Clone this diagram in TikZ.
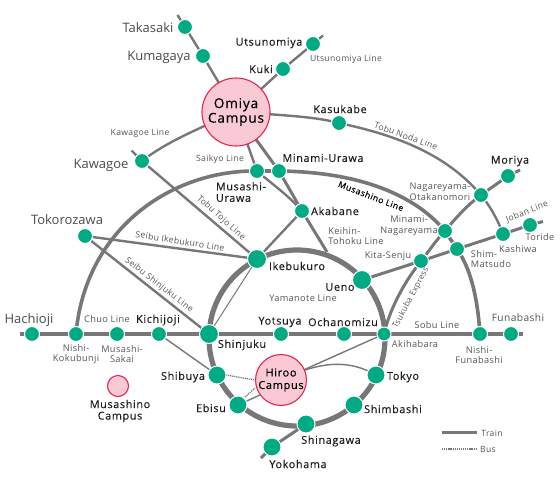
\documentclass[tikz,border=0pt]{standalone}
\usepackage{fontspec}
\setmainfont{Open Sans}
\newfontfamily\semi[FakeBold=0.3,LetterSpace=6]{Open Sans}
\newfontfamily\spaced[LetterSpace=4]{Open Sans}
\usetikzlibrary{backgrounds}
\definecolor{stn}{HTML}{00AA82}
\definecolor{rail}{HTML}{777777}
\definecolor{pinkc}{HTML}{F9C9D6}
\definecolor{redc}{HTML}{E6264A}
\definecolor{linetxt}{HTML}{555555}
\definecolor{nametxt}{HTML}{1E1E1E}
\tikzset{
  st/.style={circle,fill=stn,draw=white,line width=1pt,minimum size=15pt,inner sep=0pt,outer sep=0pt},
  big/.style={st,minimum size=19pt},
  small/.style={st,minimum size=14pt},
  campus/.style={circle,fill=pinkc,draw=redc,line width=1.1pt,inner sep=0pt,align=center,text=black,font=\fontsize{11}{12.5}\semi},
  thick1/.style={draw=rail,line width=3pt},
  mid/.style={draw=rail,line width=2.4pt},
  thin1/.style={draw=rail,line width=1.4pt},
  dots/.style={draw=rail,line width=1.3pt,dash pattern=on 1.2pt off 0.9pt},
  lname/.style={text=linetxt,font=\fontsize{8.6}{10}\spaced,inner sep=0pt,align=center},
  sname/.style={text=nametxt,font=\fontsize{10.8}{11.5}\semi,inner sep=0pt,align=center},
  gname/.style={text=linetxt,font=\fontsize{9.2}{10.6}\spaced,inner sep=0pt,align=center},
  bigname/.style={text=nametxt!80!white,font=\fontsize{13}{14}\selectfont,inner sep=0pt},
}
\begin{document}
\begin{tikzpicture}[x=1pt,y=-1pt]
\useasboundingbox (0,0) rectangle (560,480);
% campuses
\node[campus,minimum size=68pt,font=\fontsize{13.6}{14.6}\semi] (omiya) at (236,112) {Omiya\\Campus};
\node[campus,minimum size=50pt] (hiroo) at (281,380) {Hiroo\\Campus};
\node[campus,minimum size=21pt] (musashino) at (118,386) {};
% stations
\node[st] (takasaki) at (185,27) {};
\node[st] (kumagaya) at (203,56) {};
\node[st] (utsunomiya) at (313,44) {};
\node[st] (kuki) at (283,69) {};
\node[st] (kasukabe) at (339,123) {};
\node[st] (kawagoe) at (142,161) {};
\node[st] (musashiurawa) at (257,171) {};
\node[st] (minamiurawa) at (279,171) {};
\node[st] (akabane) at (302,211) {};
\node[st] (moriya) at (508,176) {};
\node[st] (otaka) at (481,195) {};
\node[st] (minaminag) at (445,231) {};
\node[st] (shimmatsudo) at (457,249) {};
\node[st] (kashiwa) at (503,234) {};
\node[st] (toride) at (530,225) {};
\node[st] (kitasenju) at (421,261) {};
\node[big] (ueno) at (362,280) {};
\node[small] (akihabara) at (384,334) {};
\node[st] (nishifuna) at (480,334) {};
\node[st] (funabashi) at (511,334) {};
\node[st] (hachioji) at (32,334) {};
\node[st] (nishikoku) at (76,334) {};
\node[st] (sakai) at (117,334) {};
\node[st] (kichijoji) at (159,334) {};
\node[big] (shinjuku) at (209,334) {};
\node[st] (yotsuya) at (281,334) {};
\node[st] (ochanomizu) at (344,334) {};
\node[st] (tokorozawa) at (85,236) {};
\node[big] (ikebukuro) at (257,259) {};
\node[big,minimum size=18pt] (shibuya) at (217,375) {};
\node[big,minimum size=18pt] (ebisu) at (238,405) {};
\node[big,minimum size=18pt] (shinagawa) at (306,424) {};
\node[big,minimum size=18pt] (yokohama) at (272,447) {};
\node[big,minimum size=18pt] (tokyo) at (376,375) {};
\node[big,minimum size=18pt] (shimbashi) at (354,405) {};
% free ends
\coordinate (yc) at (297,338);
\coordinate (e1) at (177.5,15);
\coordinate (e2) at (323,35.5);
\coordinate (e3) at (131.5,150.5);
\coordinate (e4) at (520,170);
\coordinate (e5) at (543,221.5);
\coordinate (e6) at (261,458);
\coordinate (e7) at (20,334);
\coordinate (e8) at (523,334);
\coordinate (e9) at (327,252);
\coordinate (t1) at (442,432);
\coordinate (t2) at (477,432);
\coordinate (b1) at (442,449);
\coordinate (b2) at (477,449);
\coordinate (ka) at (260,395);
\coordinate (kb) at (255,388);
\coordinate (kc) at (245,397);
\begin{pgfonlayer}{background}
\draw[mid] (e1) -- (takasaki.center) -- (kumagaya.center) -- (omiya.center);
\draw[mid] (e2) -- (utsunomiya.center) -- (kuki.center) -- (omiya.center);
\draw[mid] (omiya.center) .. controls (300,116) and (320,118) .. (kasukabe.center) .. controls (395,135) and (445,153) .. (otaka.center) .. controls (490,206) and (498,220) .. (kashiwa.center);
\draw[mid] (omiya.center) .. controls (195,130) and (165,143) .. (kawagoe.center);
\draw[mid] (e3) -- (kawagoe.center) -- (ikebukuro.center);
\draw[mid] (tokorozawa.center) -- (ikebukuro.center);
\draw[mid] (tokorozawa.center) -- (shinjuku.center);
\draw[thick1,line width=3.6pt] (nishikoku.center) .. controls (85,230) and (170,170) .. (musashiurawa.center) -- (minamiurawa.center) .. controls (360,172) and (415,195) .. (minaminag.center) -- (shimmatsudo.center) .. controls (473,272) and (478,305) .. (nishifuna.center);
\draw[mid] (omiya.center) -- (musashiurawa.center) .. controls (272,184) and (288,195) .. (akabane.center) -- (ikebukuro.center);
\draw[thick1] (omiya.center) -- (minamiurawa.center) -- (akabane.center) -- (e9);
\draw[draw=rail,line width=1pt] (ikebukuro.center) -- (shinjuku.center);
\draw[thin1] (kichijoji.center) -- (shibuya.center);
\draw[draw=rail,line width=5.2pt] (yc) circle (88);
\draw[thick1,line width=3.6pt] (e7) -- (hachioji.center) -- (nishikoku.center) -- (sakai.center) -- (kichijoji.center) -- (shinjuku.center) -- (yotsuya.center) -- (ochanomizu.center) -- (akihabara.center) -- (nishifuna.center) -- (funabashi.center) -- (e8);
\draw[thick1] (ueno.center) -- (kitasenju.center) -- (shimmatsudo.center) -- (kashiwa.center) -- (toride.center) -- (e5);
\draw[thick1] (akihabara.center) .. controls (389,312) and (402,285) .. (kitasenju.center) .. controls (430,250) and (436,240) .. (minaminag.center) .. controls (458,215) and (470,203) .. (otaka.center) -- (moriya.center) -- (e4);
\draw[thick1] (shinagawa.center) -- (yokohama.center) -- (e6);
\draw[thin1] (akihabara.center) -- (hiroo.center);
\draw[thin1] (hiroo.center) .. controls (322,360) and (350,360) .. (tokyo.center);
\draw[thin1] (ebisu.center) -- (ka);
\draw[dots] (kc) -- (kb);
\draw[dots] (shibuya.east) -- (hiroo.west);
\draw[thick1] (t1) -- (t2);
\draw[dots] (b1) -- (b2);
\end{pgfonlayer}
% station labels
\node[bigname] (l1) at (148,28) {Takasaki};
\node[bigname] (l2) at (159,57) {Kumagaya};
\node[sname] (l3) at (269,43) {Utsunomiya};
\node[lname] (l4) at (346,59) {Utsunomiya Line};
\node[sname] (l5) at (261,69) {Kuki};
\node[sname] (l6) at (340,109) {Kasukabe};
\node[lname,rotate=-20] (l7) at (406,136) {Tobu Noda Line};
\node[lname] (l8) at (140,133) {Kawagoe Line};
\node[bigname] (l9) at (101,165) {Kawagoe};
\node[lname] (l10) at (220,159) {Saikyo Line};
\node[sname] (l11) at (323,158) {Minami-Urawa};
\node[sname,align=left] (l12) at (241,192) {Musashi-\\Urawa};
\node[sname] (l13) at (335,211) {Akabane};
\node[gname,align=left] (l14) at (356,236) {Keihin-\\Tohoku Line};
\node[lname,text=black,font=\fontsize{8.6}{10}\semi,rotate=-21] (l15) at (371,196) {Musashino Line};
\node[sname] (l16) at (510,161) {Moriya};
\node[gname] (l17) at (440,192) {Nagareyama-\\Otakanomori};
\node[gname] (l18) at (409,226) {Minami-\\Nagareyama};
\node[gname] (l19) at (388,256) {Kita-Senju};
\node[gname,align=left] (l20) at (491,259) {Shim-\\Matsudo};
\node[gname] (l21) at (518,249) {Kashiwa};
\node[gname] (l22) at (540,237) {Toride};
\node[lname,rotate=22] (l23) at (527,212) {Joban Line};
\node[lname,rotate=62,font=\fontsize{8.2}{10}\spaced] (l24) at (411,298) {Tsukuba Express};
\node[sname] (l25) at (340,287) {Ueno};
\node[sname] (l26) at (297,266) {Ikebukuro};
\node[gname] (l27) at (303,298) {Yamanote Line};
\node[sname] (l28) at (280,322) {Yotsuya};
\node[sname] (l29) at (343,322) {Ochanomizu};
\node[sname] (l30) at (242,345) {Shinjuku};
\node[gname] (l31) at (415,344) {Akihabara};
\node[gname] (l32) at (437,325) {Sobu Line};
\node[gname,font=\fontsize{10.2}{11}\spaced] (l33) at (518,318) {Funabashi};
\node[gname] (l34) at (479,355) {Nishi-\\Funabashi};
\node[bigname] (l35) at (29,320) {Hachioji};
\node[gname] (l36) at (107,319) {Chuo Line};
\node[sname] (l37) at (158,320) {Kichijoji};
\node[gname] (l38) at (76,354) {Nishi-\\Kokubunji};
\node[gname] (l39) at (122,354) {Musashi-\\Sakai};
\node[sname] (l40) at (120,411) {Musashino\\Campus};
\node[bigname] (l41) at (67,220) {Tokorozawa};
\node[lname,rotate=-9] (l42) at (180,241) {Seibu Ikebukuro Line};
\node[lname,rotate=-38] (l43) at (159,285) {Seibu Shinjuku Line};
\node[lname,rotate=-42] (l44) at (221,218) {Tobu Tojo Line};
\node[sname] (l45) at (183,377) {Shibuya};
\node[sname] (l46) at (211,408) {Ebisu};
\node[sname] (l47) at (403,377) {Tokyo};
\node[sname] (l48) at (393,409) {Shimbashi};
\node[sname] (l49) at (331,441) {Shinagawa};
\node[sname] (l50) at (298,464) {Yokohama};
\node[lname] (l51) at (492,433) {Train};
\node[lname] (l52) at (488,449) {Bus};
\end{tikzpicture}
\end{document}
